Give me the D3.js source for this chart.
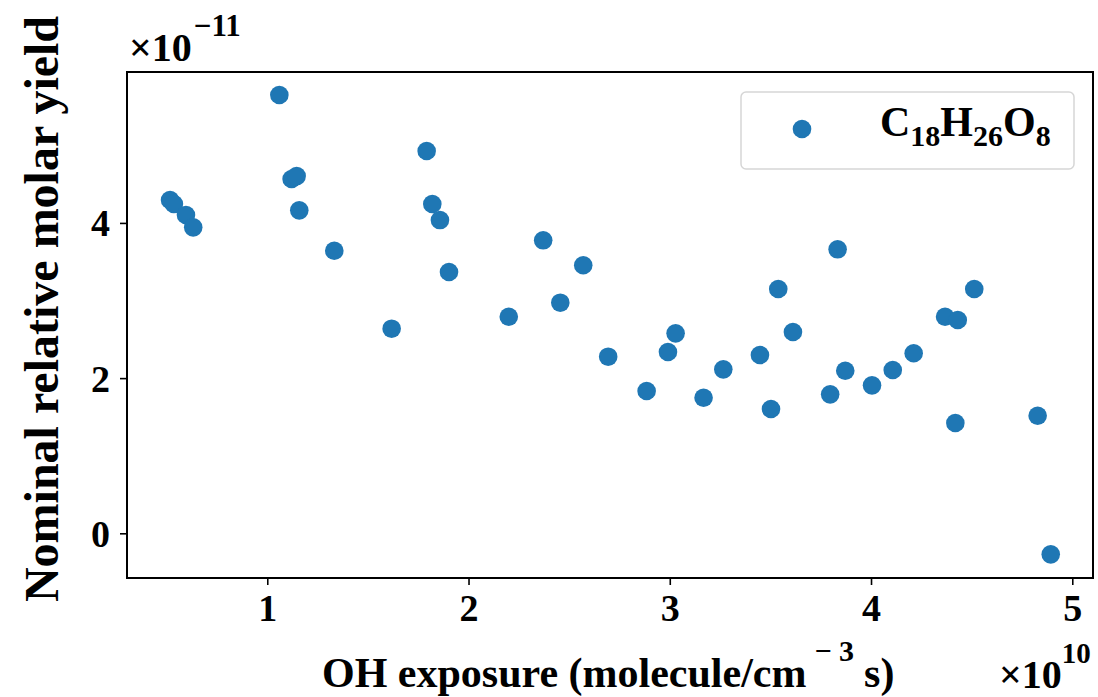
<!DOCTYPE html>
<html>
<head>
<meta charset="utf-8">
<script src="https://cdn.jsdelivr.net/npm/d3@7"></script>
<style>
  body { margin: 0; background: #fff; }
  text { font-family: "Liberation Serif", "Times New Roman", serif; font-weight: bold; fill: #000; }
</style>
</head>
<body>
<svg id="chart" width="1098" height="697"></svg>
<script>
// OH exposure (units of 1e10 molecule cm^-3 s)
var exposure = [0.517, 0.536, 0.596, 0.632, 1.060, 1.121, 1.146, 1.159, 1.333, 1.618,
                1.792, 1.820, 1.858, 1.903, 2.200, 2.371, 2.456, 2.570, 2.694, 2.885,
                2.991, 3.029, 3.168, 3.266, 3.448, 3.503, 3.539, 3.612, 3.797, 3.834,
                3.872, 4.005, 4.108, 4.212, 4.368, 4.419, 4.431, 4.513, 4.828, 4.893];
// nominal relative molar yield (units of 1e-11)
var yieldVals = [4.295, 4.244, 4.102, 3.943, 5.648, 4.566, 4.604, 4.162, 3.642, 2.637,
                 4.927, 4.244, 4.037, 3.367, 2.791, 3.776, 2.972, 3.454, 2.276, 1.834,
                 2.336, 2.577, 1.747, 2.113, 2.298, 1.602, 3.148, 2.594, 1.791, 3.660,
                 2.095, 1.907, 2.104, 2.320, 2.791, 1.421, 2.749, 3.148, 1.515, -0.271];
var xTicks = [1, 2, 3, 4, 5];
var yTicks = [0, 2, 4];
var color = "#1f77b4";

var svg = d3.select("#chart");
var mLeft = 127, mRight = 1093, mTop = 72, mBottom = 578;

var x = d3.scaleLinear().domain([0.303, 5.103]).range([mLeft, mRight]);
var y = d3.scaleLinear().domain([-0.576, 5.945]).range([mBottom, mTop]);

// axes
var xAxis = svg.append("g")
    .attr("transform", "translate(0," + mBottom + ")")
    .call(d3.axisBottom(x).tickValues(xTicks).tickFormat(d3.format("d")).tickSize(7).tickPadding(6).tickSizeOuter(0));
var yAxis = svg.append("g")
    .attr("transform", "translate(" + mLeft + ",0)")
    .call(d3.axisLeft(y).tickValues(yTicks).tickFormat(d3.format("d")).tickSize(7).tickPadding(10).tickSizeOuter(0));

[xAxis, yAxis].forEach(function(g) {
    g.select(".domain").remove();
    g.selectAll(".tick line").attr("stroke", "#000").attr("stroke-width", 1.6);
    g.selectAll(".tick text").style("font-size", "38px").attr("fill", "#000");
});
xAxis.selectAll(".tick text").attr("dy", "0.8em");
yAxis.selectAll(".tick text").attr("dy", "0.34em");

// frame
svg.append("rect")
    .attr("x", mLeft).attr("y", mTop)
    .attr("width", mRight - mLeft).attr("height", mBottom - mTop)
    .attr("fill", "none").attr("stroke", "#000").attr("stroke-width", 2);

// points
svg.append("g").selectAll("circle")
    .data(exposure.map(function(d, i) { return {x: d, y: yieldVals[i]}; }))
    .enter().append("circle")
    .attr("cx", function(d) { return x(d.x); })
    .attr("cy", function(d) { return y(d.y); })
    .attr("r", 9.3)
    .attr("fill", color);

// legend
var legend = svg.append("g");
legend.append("rect")
    .attr("x", 741).attr("y", 92).attr("width", 333).attr("height", 77)
    .attr("rx", 5).attr("fill", "#fff").attr("fill-opacity", 0.8)
    .attr("stroke", "#d6d6d6").attr("stroke-width", 1.5);
legend.append("circle").attr("cx", 802).attr("cy", 129).attr("r", 9.3).attr("fill", color);
var lt = legend.append("text").attr("x", 880).attr("y", 136).style("font-size", "42px");
[["C", 0], ["18", 1], ["H", 0], ["26", 1], ["O", 0], ["8", 1]].forEach(function(p, i) {
    var t = lt.append("tspan").text(p[0]);
    if (p[1]) t.style("font-size", "30px").attr("dy", 10);
    else t.attr("dy", i > 0 ? -10 : 0);
});

// y label
svg.append("text")
    .attr("transform", "translate(58,309) rotate(-90)")
    .attr("text-anchor", "middle")
    .style("font-size", "48px")
    .text("Nominal relative molar yield");

// x label
var xl = svg.append("text")
    .attr("x", 322).attr("y", 687)
    .style("font-size", "42px");
xl.append("tspan").text("OH exposure (molecule/cm");
xl.append("tspan").attr("dx", 8).attr("dy", -26).style("font-size", "30px").text("\u2212 3");
xl.append("tspan").attr("dx", 10).attr("dy", 26).text("s)");

// offset texts
var ox = svg.append("text").attr("x", 999).attr("y", 688).style("font-size", "40px");
ox.append("tspan").text("\u00d710");
ox.append("tspan").attr("dy", -25).style("font-size", "29px").text("10");

var oy = svg.append("text").attr("x", 129).attr("y", 61).style("font-size", "40px");
oy.append("tspan").text("\u00d710");
oy.append("tspan").attr("dx", 2).attr("dy", -25).style("font-size", "31px").text("\u221211");
</script>
</body>
</html>
